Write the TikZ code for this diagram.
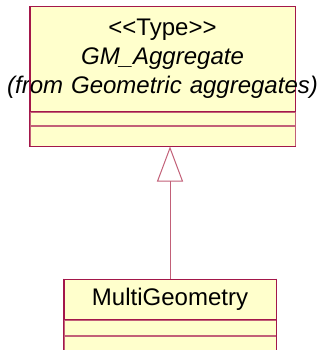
\documentclass[tikz,border=0pt]{standalone}
\usepackage{fontspec}
\setmainfont{Liberation Sans}
\usetikzlibrary{arrows.meta,positioning}
\definecolor{ClassFill}{HTML}{FFFFCC}
\definecolor{ClassLine}{HTML}{A3174A}
\definecolor{SepLine}{HTML}{C26078}
\tikzset{
  classname/.style={draw=ClassLine,line width=1pt,fill=ClassFill,inner xsep=0pt,inner ysep=0pt,align=center,
    font=\fontsize{24}{29}\selectfont},
  compart/.style={draw=SepLine,line width=1pt,fill=ClassFill,inner sep=0pt},
  inherit/.style={draw=SepLine,line width=1pt,-{Triangle[open,length=35pt,width=26pt]}}
}

\begin{document}
\begin{tikzpicture}[x=1pt,y=-1pt]
  \useasboundingbox (0,0) rectangle (325,350);
  % supertype
  \node[classname,text width=265pt,minimum height=104pt] (aggr) at (162.5,59)
    {<\kern0pt<Type>\kern0pt>\\ \textit{GM\_Aggregate}\\ \makebox[0pt]{\textit{(from Geometric aggregates)}}};
  \node[compart,minimum width=265pt,minimum height=13pt,below=0pt of aggr] (aggrAttr) {};
  \node[compart,minimum width=265pt,minimum height=20pt,below=0pt of aggrAttr] (aggrOps) {};
  \draw[ClassLine,line width=1pt] (aggr.north west) -- (aggrOps.south west) -- (aggrOps.south east);
  % subtype
  \node[classname,text width=212pt,minimum height=40pt] (multi) at (170,299) {MultiGeometry};
  \node[compart,minimum width=212pt,minimum height=15pt,below=0pt of multi] (multiAttr) {};
  \node[compart,minimum width=212pt,minimum height=22pt,below=0pt of multiAttr] (multiOps) {};
  \draw[ClassLine,line width=1pt] (multi.north west) -- (multiOps.south west);
  \draw[ClassLine,line width=1pt] (multi.north east) -- (multiOps.south east);
  % generalization
  \draw[inherit] (multi.north) -- (multi.north |- aggrOps.south);
\end{tikzpicture}
\end{document}
